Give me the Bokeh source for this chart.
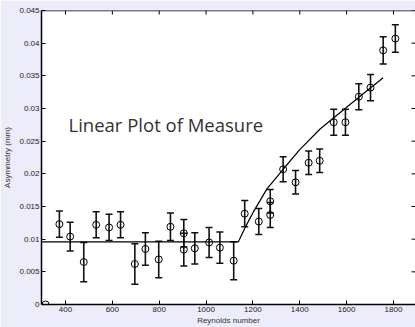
import math
from bokeh.plotting import figure
from bokeh.models import (ColumnDataSource, Range1d, LinearAxis, FixedTicker,
                          Whisker, TeeHead, Label, Span)
from bokeh.embed import file_html
from bokeh.resources import INLINE

# ---- data ----
reynolds = [315, 374, 420, 478, 531, 586, 635, 696, 741, 798, 848, 905, 905,
            952, 1013, 1059, 1118, 1165, 1225, 1274, 1274, 1329, 1382, 1438,
            1485, 1545, 1595, 1652, 1702, 1756, 1808]
asymmetry = [0.0, 0.0123, 0.0104, 0.0065, 0.0122, 0.0118, 0.0122, 0.0062,
             0.0085, 0.0069, 0.0119, 0.0109, 0.0084, 0.0086, 0.0095, 0.0087,
             0.0067, 0.0139, 0.0127, 0.0158, 0.0137, 0.0207, 0.0187, 0.0217,
             0.0220, 0.0279, 0.0279, 0.0318, 0.0332, 0.0389, 0.0407]
error = [0.0, 0.0020, 0.0022, 0.0030, 0.0020, 0.0020, 0.0020, 0.0031,
         0.0025, 0.0028, 0.0021, 0.0021, 0.0025, 0.0024, 0.0023, 0.0024,
         0.0029, 0.0020, 0.0020, 0.0018, 0.0019, 0.0019, 0.0018, 0.0018,
         0.0018, 0.0020, 0.0020, 0.0020, 0.0020, 0.0021, 0.0021]

fit_x = [297.6, 1138, 1170, 1204, 1260, 1329, 1400, 1488, 1600, 1700, 1756]
fit_y = [0.0096, 0.0096, 0.0120, 0.0143, 0.0177, 0.0207, 0.0237, 0.0269,
         0.0302, 0.0331, 0.0347]

x_lo, x_hi = 297.6, 1894
y_lo, y_hi = 0, 0.045

x_ticks = [400, 600, 800, 1000, 1200, 1400, 1600, 1800]
y_ticks = [0, 0.005, 0.01, 0.015, 0.02, 0.025, 0.03, 0.035, 0.04, 0.045]
y_tick_labels = ["0", "0.005", "0.01", "0.015", "0.02", "0.025", "0.03",
                 "0.035", "0.04", "0.045"]

title_text = "Linear Plot of Measure"
x_label = "Reynolds number"
y_label = "Asymmetry (mm)"

FONT = "Liberation Sans"
BG = "#ECECFA"

p = figure(width=415, height=327, output_backend="svg", toolbar_location=None,
           x_range=Range1d(x_lo, x_hi), y_range=Range1d(y_lo, y_hi),
           min_border_left=41, min_border_right=0, min_border_top=10,
           min_border_bottom=21, x_axis_location=None, y_axis_location=None)
p.background_fill_color = "white"
p.border_fill_color = BG
p.outline_line_color = None
p.grid.visible = False

def style(ax):
    ax.axis_line_color = "black"
    ax.axis_line_width = 1.5
    ax.major_tick_in = 4
    ax.major_tick_out = 0
    ax.major_tick_line_color = "black"
    ax.major_tick_line_width = 1
    ax.minor_tick_line_color = None
    ax.major_label_text_font = FONT
    ax.major_label_text_font_size = "8px"
    ax.major_label_text_color = "#222222"
    ax.major_label_standoff = 2
    ax.axis_label_text_font = FONT
    ax.axis_label_text_font_size = "8px"
    ax.axis_label_text_font_style = "normal"
    ax.axis_label_text_color = "#333333"

xb = LinearAxis(ticker=FixedTicker(ticks=x_ticks), axis_label=x_label)
style(xb)
xb.axis_label_standoff = 1
p.add_layout(xb, "below")

yl = LinearAxis(ticker=FixedTicker(ticks=y_ticks), axis_label=y_label)
style(yl)
yl.major_label_overrides = dict(zip(y_ticks, y_tick_labels))
yl.axis_label_standoff = 4
p.add_layout(yl, "left")

# top spine and inward ticks on top / right (no labels)
p.add_layout(Span(location=y_hi, dimension="width", line_color="black",
                  line_width=1.5))
p.ray(x=x_ticks, y=[y_hi] * len(x_ticks), length=4, length_units="screen",
      angle=-math.pi / 2, line_color="black", line_width=1)
p.ray(x=[x_hi] * len(y_ticks), y=y_ticks, length=4, length_units="screen",
      angle=math.pi, line_color="black", line_width=1)

# fit line
p.line(fit_x, fit_y, line_color="black", line_width=1.2)

# error bars
ex, lo, hi = [], [], []
for xv, yv, ev in zip(reynolds, asymmetry, error):
    if ev > 0:
        ex.append(xv)
        lo.append(yv - ev)
        hi.append(yv + ev)
wsrc = ColumnDataSource(dict(x=ex, lower=lo, upper=hi))
w = Whisker(source=wsrc, base="x", lower="lower", upper="upper",
            dimension="height", line_color="#111111", line_width=1.6,
            upper_head=TeeHead(size=7, line_color="#111111", line_width=1.5),
            lower_head=TeeHead(size=7, line_color="#111111", line_width=1.5))
p.add_layout(w)

# points
p.scatter(reynolds, asymmetry, marker="circle", size=7, fill_color=None,
          line_color="black", line_width=1)

p.add_layout(Label(x=27, y=180, x_units="screen", y_units="screen",
                   text=title_text, text_font="Open Sans",
                   text_font_size="18.5px", text_color="#333333",
                   text_baseline="alphabetic"))

open("out.html", "w").write(file_html(p, INLINE))
